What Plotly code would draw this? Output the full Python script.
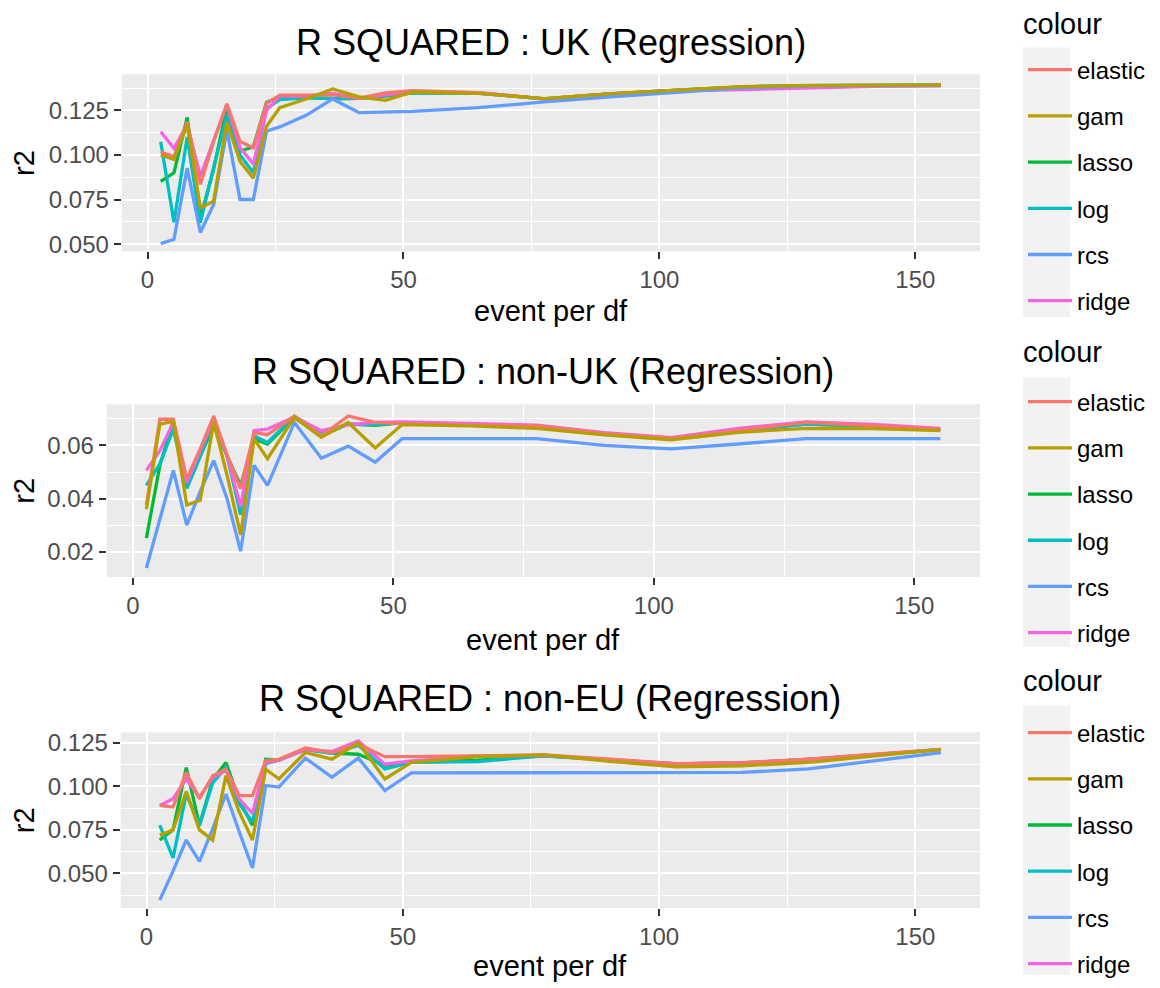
import plotly.graph_objects as go

# ---------------- data ----------------
event_per_df = [2.58, 5.17, 7.75, 10.33, 12.92, 15.5, 18.08, 20.67, 23.25, 25.83,
                31.0, 36.17, 41.33, 46.5, 51.67, 64.58, 77.5, 90.42, 103.33,
                116.25, 129.17, 142.08, 155.0]

models = ["elastic", "gam", "lasso", "log", "rcs", "ridge"]
colours = {"elastic": "#F8766D", "gam": "#B79F00", "lasso": "#00BA38",
           "log": "#00BFC4", "rcs": "#619CFF", "ridge": "#F564E3"}

uk_elastic = [0.1018, 0.0990, 0.1185, 0.0835, 0.1075, 0.1287, 0.1075, 0.1040, 0.1290, 0.1335, 0.1335, 0.1337, 0.1318, 0.1348, 0.1360, 0.1350, 0.1315, 0.1343, 0.1362, 0.1380, 0.1388, 0.1389, 0.1390]
uk_gam = [0.1000, 0.0975, 0.1170, 0.0704, 0.0741, 0.1185, 0.0963, 0.0870, 0.1160, 0.1265, 0.1314, 0.1370, 0.1326, 0.1306, 0.1352, 0.1345, 0.1316, 0.1344, 0.1364, 0.1383, 0.1390, 0.1391, 0.1392]
uk_lasso = [0.0852, 0.0900, 0.1210, 0.0648, 0.0920, 0.1270, 0.1020, 0.1046, 0.1296, 0.1324, 0.1324, 0.1314, 0.1318, 0.1330, 0.1348, 0.1347, 0.1315, 0.1343, 0.1363, 0.1382, 0.1389, 0.1390, 0.1391]
uk_log = [0.1074, 0.0622, 0.1100, 0.0620, 0.0930, 0.1220, 0.1000, 0.0900, 0.1260, 0.1310, 0.1320, 0.1316, 0.1318, 0.1332, 0.1350, 0.1347, 0.1315, 0.1343, 0.1363, 0.1382, 0.1389, 0.1390, 0.1391]
uk_rcs = [0.0503, 0.0527, 0.0926, 0.0565, 0.0722, 0.1140, 0.0750, 0.0750, 0.1133, 0.1157, 0.1222, 0.1314, 0.1237, 0.1240, 0.1244, 0.1265, 0.1298, 0.1326, 0.1350, 0.1376, 0.1388, 0.1389, 0.1390]
uk_ridge = [0.1130, 0.1037, 0.1170, 0.0880, 0.1080, 0.1280, 0.1040, 0.0950, 0.1250, 0.1330, 0.1330, 0.1345, 0.1318, 0.1335, 0.1355, 0.1350, 0.1315, 0.1342, 0.1360, 0.1366, 0.1374, 0.1385, 0.1388]

nonuk_elastic = [0.0376, 0.0698, 0.0698, 0.0475, 0.0587, 0.0710, 0.0562, 0.0438, 0.0648, 0.0640, 0.0710, 0.0636, 0.0710, 0.0686, 0.0682, 0.0676, 0.0674, 0.0645, 0.0627, 0.0658, 0.0686, 0.0674, 0.0661]
nonuk_gam = [0.0360, 0.0680, 0.0690, 0.0376, 0.0394, 0.0686, 0.0487, 0.0264, 0.0624, 0.0550, 0.0705, 0.0630, 0.0686, 0.0590, 0.0678, 0.0673, 0.0664, 0.0639, 0.0621, 0.0649, 0.0664, 0.0663, 0.0655]
nonuk_lasso = [0.0252, 0.0525, 0.0692, 0.0440, 0.0560, 0.0673, 0.0560, 0.0450, 0.0624, 0.0605, 0.0705, 0.0636, 0.0680, 0.0675, 0.0684, 0.0676, 0.0672, 0.0643, 0.0625, 0.0655, 0.0680, 0.0672, 0.0660]
nonuk_log = [0.0450, 0.0531, 0.0661, 0.0440, 0.0560, 0.0690, 0.0560, 0.0340, 0.0636, 0.0611, 0.0708, 0.0650, 0.0679, 0.0679, 0.0684, 0.0676, 0.0672, 0.0643, 0.0625, 0.0655, 0.0680, 0.0672, 0.0660]
nonuk_rcs = [0.0140, 0.0325, 0.0506, 0.0301, 0.0427, 0.0543, 0.0399, 0.0203, 0.0525, 0.0450, 0.0686, 0.0552, 0.0597, 0.0537, 0.0625, 0.0625, 0.0625, 0.0600, 0.0587, 0.0605, 0.0625, 0.0625, 0.0625]
nonuk_ridge = [0.0506, 0.0580, 0.0686, 0.0460, 0.0580, 0.0700, 0.0560, 0.0370, 0.0655, 0.0661, 0.0706, 0.0655, 0.0677, 0.0686, 0.0688, 0.0682, 0.0676, 0.0648, 0.0629, 0.0664, 0.0688, 0.0679, 0.0664]

noneu_elastic = [0.0891, 0.0881, 0.1080, 0.0929, 0.1061, 0.1098, 0.0947, 0.0947, 0.1146, 0.1155, 0.1220, 0.1194, 0.1241, 0.1170, 0.1170, 0.1175, 0.1180, 0.1156, 0.1130, 0.1136, 0.1156, 0.1184, 0.1212]
noneu_gam = [0.0720, 0.0750, 0.0970, 0.0750, 0.0692, 0.1061, 0.0853, 0.0692, 0.1098, 0.1043, 0.1194, 0.1156, 0.1250, 0.1042, 0.1137, 0.1170, 0.1180, 0.1143, 0.1112, 0.1118, 0.1137, 0.1175, 0.1212]
noneu_lasso = [0.0692, 0.0750, 0.1108, 0.0777, 0.1040, 0.1136, 0.0920, 0.0777, 0.1155, 0.1150, 0.1214, 0.1190, 0.1184, 0.1120, 0.1137, 0.1150, 0.1175, 0.1153, 0.1128, 0.1134, 0.1154, 0.1182, 0.1210]
noneu_log = [0.0777, 0.0589, 0.0956, 0.0777, 0.1020, 0.1110, 0.0900, 0.0796, 0.1130, 0.1150, 0.1210, 0.1190, 0.1235, 0.1100, 0.1137, 0.1142, 0.1175, 0.1152, 0.1128, 0.1134, 0.1154, 0.1182, 0.1210]
noneu_rcs = [0.0347, 0.0513, 0.0692, 0.0570, 0.0758, 0.0956, 0.0739, 0.0532, 0.1005, 0.0996, 0.1162, 0.1052, 0.1162, 0.0976, 0.1077, 0.1077, 0.1077, 0.1077, 0.1077, 0.1080, 0.1100, 0.1146, 0.1193]
noneu_ridge = [0.0890, 0.0929, 0.1042, 0.0938, 0.1050, 0.1090, 0.0928, 0.0844, 0.1136, 0.1150, 0.1210, 0.1200, 0.1260, 0.1127, 0.1146, 0.1172, 0.1178, 0.1154, 0.1128, 0.1134, 0.1154, 0.1182, 0.1210]

panel_titles = ["R SQUARED : UK (Regression)", "R SQUARED : non-UK (Regression)",
                "R SQUARED : non-EU (Regression)"]
panel_data = [
    {"elastic": uk_elastic, "gam": uk_gam, "lasso": uk_lasso, "log": uk_log, "rcs": uk_rcs, "ridge": uk_ridge},
    {"elastic": nonuk_elastic, "gam": nonuk_gam, "lasso": nonuk_lasso, "log": nonuk_log, "rcs": nonuk_rcs, "ridge": nonuk_ridge},
    {"elastic": noneu_elastic, "gam": noneu_gam, "lasso": noneu_lasso, "log": noneu_log, "rcs": noneu_rcs, "ridge": noneu_ridge},
]
y_ranges = [[0.0459, 0.1452], [0.0106, 0.0754], [0.0302, 0.1310]]
y_ticks = [[0.050, 0.075, 0.100, 0.125], [0.02, 0.04, 0.06], [0.050, 0.075, 0.100, 0.125]]
y_minor = [0.0125, 0.01, 0.0125]
y_fmt = [".3f", ".2f", ".3f"]
x_ticks = [0, 50, 100, 150]

# ---------------- layout geometry (pixels) ----------------
W, H = 1160, 988
panel_px = [  # left, right, top, bottom
    (121.7, 980, 72, 250.7),
    (106.7, 980, 405, 579.3),
    (120.7, 980, 736, 913.3),
]
title_y = [40, 372, 702]
xtitle_y = [311, 643, 972]
legend_title_y = [21, 352, 684]
first_entry_y = [72, 407, 741]
keybox = [(45, 317), (378, 650), (709, 981)]

FONT = "Liberation Sans, Arial, sans-serif"
draw_order = ["lasso", "log", "ridge", "elastic", "rcs", "gam"]
rank = {m: i + 1 for i, m in enumerate(models)}

fig = go.Figure()
layout = dict(width=W, height=H, margin=dict(l=0, r=0, t=0, b=0),
              paper_bgcolor="white", plot_bgcolor="#EBEBEB",
              font=dict(family=FONT, color="black"), showlegend=True)
annotations = []
shapes = []

for p in range(3):
    sfx = "" if p == 0 else str(p + 1)
    l, r, t, b = panel_px[p]
    xa = dict(domain=[l / W, r / W], range=[-5.04, 162.62], anchor="y" + sfx,
              tickmode="array", tickvals=x_ticks, ticks="outside", ticklen=7,
              tickwidth=1.5, tickcolor="#333333", showgrid=True, gridcolor="white",
              gridwidth=2.2, zeroline=False, showline=False,
              tickfont=dict(size=24, color="#4D4D4D", family=FONT),
              minor=dict(tick0=0, dtick=25, showgrid=True, gridcolor="white",
                         gridwidth=1.1, ticks=""))
    ya = dict(domain=[1 - b / H, 1 - t / H], range=y_ranges[p], anchor="x" + sfx,
              tickmode="array", tickvals=y_ticks[p], tickformat=y_fmt[p],
              ticks="outside", ticklen=7, tickwidth=1.5, tickcolor="#333333",
              showgrid=True, gridcolor="white", gridwidth=2.2, zeroline=False,
              showline=False, tickfont=dict(size=24, color="#4D4D4D", family=FONT),
              minor=dict(tick0=0, dtick=y_minor[p], showgrid=True,
                         gridcolor="white", gridwidth=1.1, ticks=""))
    layout["xaxis" + sfx] = xa
    layout["yaxis" + sfx] = ya

    leg_name = "legend" + sfx
    layout[leg_name] = dict(x=1023 / W, y=1 - (first_entry_y[p] - 27) / H,
                            xanchor="left", yanchor="top", bgcolor="rgba(0,0,0,0)",
                            font=dict(size=24, family=FONT, color="black"),
                            tracegroupgap=12, itemwidth=44)

    for m in draw_order:
        fig.add_trace(go.Scatter(
            x=event_per_df, y=panel_data[p][m], mode="lines", name=m,
            line=dict(color=colours[m], width=3.3), xaxis="x" + sfx, yaxis="y" + sfx,
            legend=leg_name, legendgroup=f"p{p}_{m}", legendrank=rank[m]))

    cx = (l + r) / 2
    annotations.append(dict(text=panel_titles[p], x=cx / W, y=1 - title_y[p] / H,
                            xref="paper", yref="paper", showarrow=False,
                            xanchor="center", yanchor="middle",
                            font=dict(size=36, color="black", family=FONT)))
    annotations.append(dict(text="event per df", x=cx / W, y=1 - xtitle_y[p] / H,
                            xref="paper", yref="paper", showarrow=False,
                            xanchor="center", yanchor="middle",
                            font=dict(size=29, color="black", family=FONT)))
    annotations.append(dict(text="r2", x=24 / W, y=1 - ((t + b) / 2) / H,
                            xref="paper", yref="paper", showarrow=False,
                            xanchor="center", yanchor="middle", textangle=-90,
                            font=dict(size=29, color="black", family=FONT)))
    annotations.append(dict(text="colour", x=1021 / W, y=1 - legend_title_y[p] / H,
                            xref="paper", yref="paper", showarrow=False,
                            xanchor="left", yanchor="middle",
                            font=dict(size=29, color="black", family=FONT)))
    k0, k1 = keybox[p]
    shapes.append(dict(type="rect", xref="paper", yref="paper", layer="below",
                       x0=1023 / W, x1=1070 / W, y0=1 - k1 / H, y1=1 - k0 / H,
                       fillcolor="#F2F2F2", line=dict(width=0)))

layout["annotations"] = annotations
layout["shapes"] = shapes
fig.update_layout(**layout)

fig.write_html("out.html", config={"displayModeBar": False},
               post_script="document.body.style.margin='0px';")
